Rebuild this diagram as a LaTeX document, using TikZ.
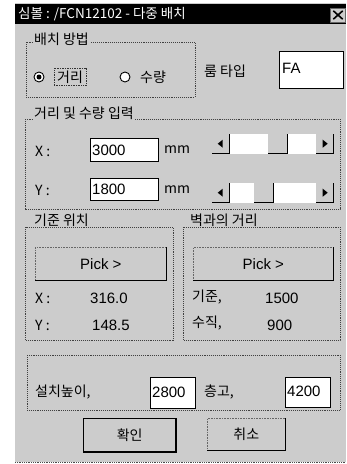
\documentclass[tikz,border=0pt]{standalone}
\usepackage{fontspec}
\newfontfamily\kr{Noto Sans CJK KR}
\newfontfamily\ls{Liberation Sans}
\definecolor{bg}{gray}{0.80}
\begin{document}
\begin{tikzpicture}[x=1pt,y=-1pt,
  lbl/.style={font=\kr\fontsize{14}{16}\selectfont, anchor=west, inner sep=1pt},
  num/.style={font=\ls\fontsize{15}{17}\selectfont, anchor=west, inner sep=1pt},
  glbl/.style={lbl, fill=bg},
  grp/.style={draw=black!75, densely dotted, line width=0.9pt},
  tbox/.style={draw=black, line width=1.3pt, fill=white},
  btn/.style={draw=black!60, densely dotted, fill=bg, line width=0.6pt},
  shade/.style={line width=1.6pt, black},
  radio/.style={circle, draw=black, fill=white, minimum size=10pt, inner sep=0pt, line width=0.9pt}
]
\useasboundingbox (0,0) rectangle (346,464);
\fill[white] (0,0) rectangle (346,464);
\fill[bg] (15,3) rectangle (346,462);
\draw[black!70, densely dotted, line width=0.8pt] (15,462) -- (346,462);
% title bar
\fill[black] (15,4) rectangle (346,24);
\node[lbl, text=white, font=\kr\fontsize{13.5}{15}\selectfont] (title) at (17,14) {심볼 : /FCN12102 - 다중 배치};
\node[draw=black!60, fill=bg, minimum width=15pt, minimum height=14pt, inner sep=0pt] (close) at (338,15) {};
\draw[line width=1.6pt] ([shift={(3,3)}]close.north west) -- ([shift={(-3,-3)}]close.south east);
\draw[line width=1.6pt] ([shift={(-3,3)}]close.north east) -- ([shift={(3,-3)}]close.south west);

% group 1: placement method
\draw[grp] (26,42) rectangle (195,97);
\node[glbl] (g1) at (33,39) {배치 방법};
\node[radio] (r1) at (39,77) {};
\fill (r1.center) circle (2.5pt);
\node[lbl] (r1t) at (56,77) {거리};
\draw[black!80, densely dotted, line width=0.7pt] ([shift={(-2,-1)}]r1t.north west) rectangle ([shift={(2,1)}]r1t.south east);
\node[radio] (r2) at (125,77) {};
\node[lbl] (r2t) at (139,77) {수량};
\node[lbl] (roomt) at (203,71) {룸 타입};
\node[tbox, minimum width=64pt, minimum height=37pt, anchor=north west] (fa) at (279,51) {};
\node[num] (fat) at (281,68) {FA};

% group 2: distance and quantity
\draw[grp] (25,119) rectangle (340,209);
\node[glbl] (g2) at (33,113) {거리 및 수량 입력};
\node[lbl] (xl) at (34,151) {X :};
\node[tbox, minimum width=68pt, minimum height=23pt, anchor=north west] (xbox) at (90,138) {};
\node[num] (xv) at (91,150) {3000};
\node[lbl] (xmm) at (163,150) {mm};
\node[lbl] (yl) at (34,190) {Y :};
\node[tbox, minimum width=68pt, minimum height=22pt, anchor=north west] (ybox) at (90,178) {};
\node[num] (yv) at (91,189) {1800};
\node[lbl] (ymm) at (163,190) {mm};
% scrollbars
\foreach \r/\yy/\th in {x/134/268, y/183/254}{
  \fill[white] (212,\yy) rectangle (333,\yy+20);
  \node[fill=bg, minimum width=17pt, minimum height=19pt, inner sep=0pt, anchor=north west] (\r lb) at (212,\yy) {};
  \draw[shade] (\r lb.south west) -- (\r lb.south east) -- (\r lb.north east);
  \fill ([xshift=-3pt]\r lb.center) -- ++(5,-4) -- ++(0,8) -- cycle;
  \node[fill=bg, minimum width=19pt, minimum height=19pt, inner sep=0pt, anchor=north west] (\r th) at (\th,\yy) {};
  \draw[shade] (\r th.south west) -- (\r th.south east) -- (\r th.north east);
  \node[fill=bg, minimum width=17pt, minimum height=19pt, inner sep=0pt, anchor=north west] (\r rb) at (316,\yy) {};
  \draw[shade] (\r rb.south west) -- (\r rb.south east) -- (\r rb.north east);
  \fill ([xshift=3pt]\r rb.center) -- ++(-5,-4) -- ++(0,8) -- cycle;
}

% group 3: reference position
\draw[grp] (25,227) rectangle (173,340);
\node[glbl] (g3) at (33,220) {기준 위치};
\node[btn, minimum width=131pt, minimum height=33pt, anchor=north west] (pick1) at (35,247) {};
\draw[shade] (pick1.south west) -- (pick1.south east) -- (pick1.north east);
\node[num, anchor=center] (pick1t) at (pick1.center) {Pick >};
\node[lbl] (x3l) at (34,298) {X :};
\node[num] (x3v) at (89,298) {316.0};
\node[lbl] (y3l) at (34,325) {Y :};
\node[num] (y3v) at (91,325) {148.5};

% group 4: distance from wall
\draw[grp] (183,227) rectangle (340,340);
\node[glbl] (g4) at (189,220) {벽과의 거리};
\node[btn, minimum width=140pt, minimum height=33pt, anchor=north west] (pick2) at (193,247) {};
\draw[shade] (pick2.south west) -- (pick2.south east) -- (pick2.north east);
\node[num, anchor=center] (pick2t) at (pick2.center) {Pick >};
\node[lbl] (b1l) at (191,297) {기준,};
\node[num] (b1v) at (264,298) {1500};
\node[lbl] (b2l) at (191,323) {수직,};
\node[num] (b2v) at (266,325) {900};

% group 5: heights
\draw[grp] (27,355) rectangle (340,410);
\node[lbl] (hl) at (34,392) {설치높이,};
\node[tbox, minimum width=45pt, minimum height=31pt, anchor=north west] (hbox) at (150,377) {};
\node[num] (hv) at (151,392) {2800};
\node[lbl] (fl) at (203,392) {층고,};
\node[tbox, minimum width=45pt, minimum height=30pt, anchor=north west] (fbox) at (285,377) {};
\node[num] (fv) at (286,391) {4200};

% buttons
\node[draw=black, line width=1.4pt, fill=bg, minimum width=92pt, minimum height=33pt, anchor=north west] (ok) at (83,418) {};
\draw[shade] (ok.south west) -- (ok.south east) -- (ok.north east);
\node[lbl, anchor=center] (okt) at (ok.center) {확인};
\node[btn, minimum width=78pt, minimum height=32pt, anchor=north west] (cancel) at (207,418) {};
\draw[shade] (cancel.south west) -- (cancel.south east) -- (cancel.north east);
\node[lbl, anchor=center] (cancelt) at (cancel.center) {취소};
\end{tikzpicture}
\end{document}
